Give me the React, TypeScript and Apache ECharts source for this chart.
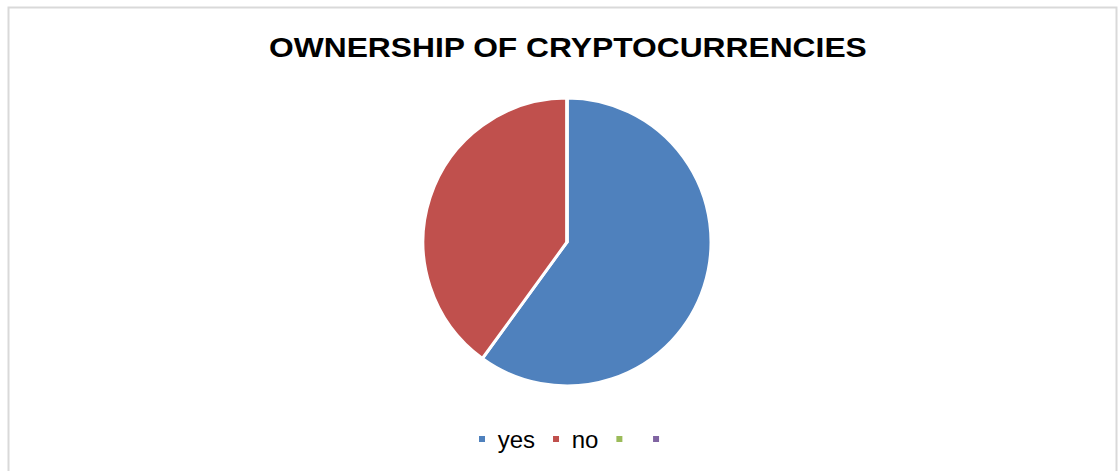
import React, { useEffect, useRef } from "react";
import * as echarts from "echarts";

const titleText = "OWNERSHIP OF CRYPTOCURRENCIES";
const categories = ["yes", "no", " ", "  "];
const values = [60, 40, 0, 0];
const colors = ["#4F81BD", "#C0504D", "#9BBB59", "#8064A2"];

export default function App() {
  const ref = useRef<HTMLDivElement>(null);
  useEffect(() => {
    if (!ref.current) return;
    const chart = echarts.init(ref.current, null, { renderer: "svg" });
    chart.setOption({
      animation: false,
      backgroundColor: "#ffffff",
      color: colors,
      legend: {
        left: 477,
        top: 427,
        padding: 0,
        icon: "rect",
        itemWidth: 8,
        itemHeight: 8,
        itemGap: 16,
        selectedMode: false,
        data: categories,
        formatter: (n: string) => " " + n.trim(),
        textStyle: {
          fontFamily: "Liberation Sans, Arial, sans-serif",
          fontSize: 24,
          color: "#000000",
        },
      },
      graphic: [
        {
          type: "rect",
          silent: true,
          shape: { x: 8.5, y: 7.5, width: 1108, height: 480 },
          style: { fill: "none", stroke: "#d9d9d9", lineWidth: 2 },
        },
        {
          type: "text",
          silent: true,
          x: 269,
          y: 33,
          scaleX: 1.135,
          style: {
            text: titleText,
            font: "bold 28px 'Liberation Sans', Arial, sans-serif",
            fill: "#000000",
            verticalAlign: "top",
            align: "left",
          },
        },
      ],
      series: [
        {
          type: "pie",
          center: [567, 242],
          radius: 144,
          startAngle: 90,
          clockwise: true,
          label: { show: false },
          labelLine: { show: false },
          emphasis: { disabled: true },
          itemStyle: { borderColor: "#ffffff", borderWidth: 3 },
          data: categories.map((c, i) => ({ name: c, value: values[i] })),
        },
      ],
    });
    return () => chart.dispose();
  }, []);
  return (
    <div
      ref={ref}
      style={{ position: "fixed", left: 0, top: 0, width: 1118, height: 471 }}
    />
  );
}
